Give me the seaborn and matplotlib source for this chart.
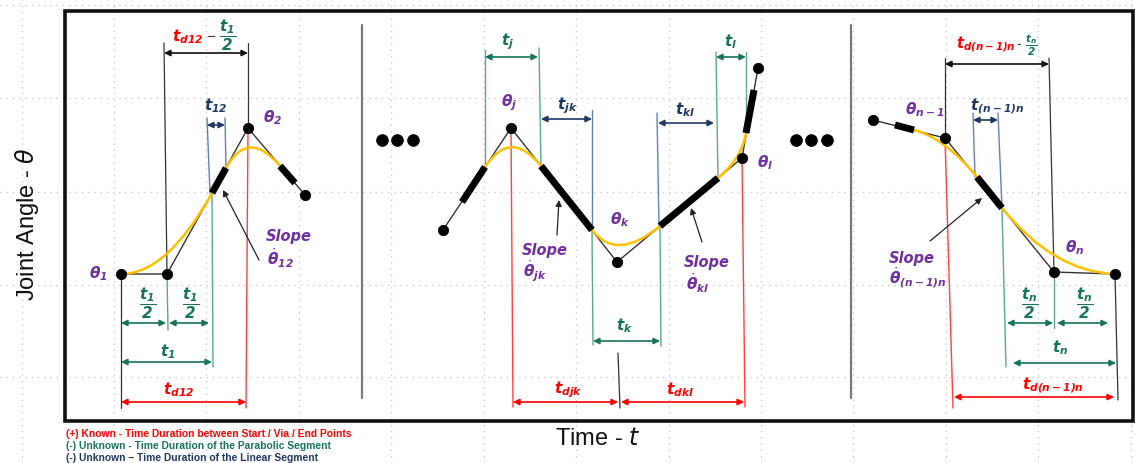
import numpy as np
import pandas as pd
import matplotlib.pyplot as plt
from matplotlib.path import Path
from matplotlib.patches import PathPatch, Rectangle
import seaborn as sns

# ==========================================
# 1. colours / theme
# ==========================================
PURPLE = "#7030A0"
RED = "#FF0000"
GREEN = "#17745A"
GREEN_L = "#5BA88A"
NAVY = "#1F3864"
NAVY_L = "#6480B4"
GOLD = "#FFC000"

sns.set_theme(style="whitegrid")
plt.rcParams["font.family"] = ["Liberation Sans", "DejaVu Sans"]
plt.rcParams["mathtext.fontset"] = "dejavusans"

# ==========================================
# 2. data (time -> x pixel, joint angle -> y pixel, angle axis points down)
# ==========================================
# background grid
grid_t = [22, 114, 206, 299, 391, 484, 576, 669, 761, 853, 946, 1038, 1131]
grid_a = [5, 98, 192, 285, 377]

# start / via / end points of the three panels
way1_t = [121, 167, 248, 305]
way1_a = [274, 274, 128, 195]
way2_t = [443, 511, 617, 742, 758]
way2_a = [230, 128, 262, 158, 68]
way3_t = [873, 945, 1054, 1115]
way3_a = [120, 138, 272, 274]

# parabolic blends: start, corner, end
blend_t = [(121, 167, 212), (226, 248, 280), (485, 511, 541), (592, 617, 660),
           (718, 742, 746), (914, 945, 977), (1002, 1054, 1115)]
blend_a = [(274, 274, 193), (168, 128, 166), (167, 128, 166), (230, 262, 226),
           (178, 158, 133), (130, 138, 177), (208, 272, 274)]
blend_groups = [[0, 1], [2, 3, 4], [5, 6]]

# linear segments (thick)
lin_t0 = [212, 280, 462, 541, 660, 746, 895, 977]
lin_a0 = [193, 166, 202, 166, 226, 133, 125, 177]
lin_t1 = [226, 295, 485, 592, 718, 754, 914, 1002]
lin_a1 = [168, 183, 167, 230, 178, 90, 130, 208]

# guide lines (x0, y0, x1, y1)
black_guides = [(164, 43, 167, 274), (248, 43, 248, 128), (121, 274, 121, 408),
                (945, 58, 945, 138), (1049, 58, 1054, 272), (1115, 274, 1118, 400),
                (618, 353, 620, 408)]
navy_guides = [(207, 118, 210, 193), (225, 118, 226, 168),
               (592, 110, 592, 230), (657, 113, 659, 226),
               (973, 113, 975, 177), (998, 113, 1002, 208)]
green_guides = [(167, 274, 168, 330), (212, 193, 213, 367),
                (485, 50, 485, 167), (539, 48, 541, 166),
                (716, 52, 718, 178), (746, 52, 746, 133),
                (592, 230, 593, 345), (660, 226, 661, 346),
                (1002, 208, 1006, 367), (1054, 272, 1054, 328)]
red_guides = [(248, 128, 246, 408), (511, 128, 513, 407), (742, 158, 745, 407),
              (945, 138, 953, 408)]
separators = [(362, 25, 362, 398), (851, 25, 851, 398)]

# dimension arrows (x0, x1, y)
black_dims = [(164, 248, 53), (945, 1049, 64)]
navy_dims = [(207, 225, 125), (541, 592, 119), (658, 714, 123), (973, 998, 120)]
green_dims = [(121, 166, 323), (169, 209, 323), (121, 212, 362),
              (485, 538, 57), (716, 746, 57), (593, 660, 341),
              (1007, 1053, 323), (1057, 1108, 323), (1013, 1116, 363)]
red_dims = [(121, 246, 402), (513, 618, 402), (621, 744, 402), (954, 1114, 397)]

# slope pointers (text end -> line)
ptr_from = [(259, 260), (557, 235), (702, 242), (930, 241)]
ptr_to = [(223, 190), (559, 200), (691, 208), (982, 198)]

# labels
theta_lbl = [r"$\mathbfit{\theta}_{\mathbfit{1}}$", r"$\mathbfit{\theta}_{\mathbfit{2}}$",
             r"$\mathbfit{\theta}_{\mathbfit{j}}$", r"$\mathbfit{\theta}_{\mathbfit{k}}$",
             r"$\mathbfit{\theta}_{\mathbfit{l}}$", r"$\mathbfit{\theta}_{\mathbfit{n-1}}$",
             r"$\mathbfit{\theta}_{\mathbfit{n}}$"]
theta_xy = [(98, 274), (273, 118), (509, 103), (620, 220), (765, 163), (925, 110), (1075, 248)]
slope_dot = [r"$\dot{\mathbfit{\theta}}_{\mathbfit{12}}$", r"$\dot{\mathbfit{\theta}}_{\mathbfit{jk}}$",
             r"$\dot{\mathbfit{\theta}}_{\mathbfit{kl}}$", r"$\dot{\mathbfit{\theta}}_{\mathbfit{(n-1)n}}$"]
slope_xy = [(289, 237), (545, 250), (707, 262), (912, 258)]
slope_dot_xy = [(280, 258), (535, 271), (698, 283), (918, 278)]
half1 = r"$\dfrac{\mathbfit{t}_{\mathbfit{1}}}{\mathbfit{2}}$"
halfn = r"$\dfrac{\mathbfit{t}_{\mathbfit{n}}}{\mathbfit{2}}$"
green_lbl = [half1, half1, r"$\mathbfit{t}_{\mathbfit{1}}$", r"$\mathbfit{t}_{\mathbfit{j}}$",
             r"$\mathbfit{t}_{\mathbfit{l}}$", r"$\mathbfit{t}_{\mathbfit{k}}$",
             halfn, halfn, r"$\mathbfit{t}_{\mathbfit{n}}$"]
green_lbl_xy = [(148, 303), (191, 303), (168, 352), (508, 42), (731, 42), (625, 326),
                (1030, 303), (1085, 303), (1060, 348)]
navy_lbl = [r"$\mathbfit{t}_{\mathbfit{12}}$", r"$\mathbfit{t}_{\mathbfit{jk}}$",
            r"$\mathbfit{t}_{\mathbfit{kl}}$", r"$\mathbfit{t}_{\mathbfit{(n-1)n}}$"]
navy_lbl_xy = [(216, 106), (567, 106), (685, 110), (997, 106)]
red_lbl = [r"$\mathbfit{t}_{\mathbfit{d12}}$", r"$\mathbfit{t}_{\mathbfit{djk}}$",
           r"$\mathbfit{t}_{\mathbfit{dkl}}$", r"$\mathbfit{t}_{\mathbfit{d(n-1)n}}$"]
red_lbl_xy = [(179, 390), (568, 390), (680, 390), (1053, 385)]
legend_lines = ["(+) Known - Time Duration between Start / Via / End Points",
                "(-) Unknown - Time Duration of the Parabolic Segment",
                "(-) Unknown \u2013 Time Duration of the Linear Segment"]
legend_cols = [RED, GREEN, NAVY]

# ==========================================
# 3. drawing
# ==========================================
fig = plt.figure(figsize=(11.35, 4.63), dpi=100)
ax = fig.add_axes([0, 0, 1, 1])
ax.set_xlim(0, 1135)
ax.set_ylim(463, 0)
ax.set_xticks(grid_t)
ax.set_yticks(grid_a)
ax.tick_params(length=0, labelbottom=False, labelleft=False)
ax.grid(True, color="#c4c4c4", linestyle=(0, (1, 4)), linewidth=0.9)
for s in ax.spines.values():
    s.set_visible(False)

# outer frame
ax.add_patch(Rectangle((65, 11), 1068, 410, fill=False, ec="#111111", lw=2.6, zorder=2))
for x0, y0, x1, y1 in separators:
    ax.plot([x0, x1], [y0, y1], color="#7a7a7a", lw=1.6, zorder=2)


def guides(lst, col, lw=1.0):
    for x0, y0, x1, y1 in lst:
        ax.plot([x0, x1], [y0, y1], color=col, lw=lw, zorder=3)


guides(black_guides, "#333333", 0.9)
guides(navy_guides, NAVY_L, 1.0)
guides(green_guides, GREEN_L, 1.0)
guides(red_guides, "#FF4040", 1.0)


def dims(lst, col):
    for x0, x1, y in lst:
        ax.annotate("", xy=(x1, y), xytext=(x0, y),
                    arrowprops=dict(arrowstyle="<|-|>", color=col, lw=1.2,
                                    mutation_scale=9, shrinkA=0, shrinkB=0), zorder=4)


dims(black_dims, "#111111")
dims(navy_dims, NAVY)
dims(green_dims, GREEN)
dims(red_dims, RED)

# thin joint path
for wt, wa in [(way1_t, way1_a), (way2_t, way2_a), (way3_t, way3_a)]:
    sns.lineplot(x=wt, y=wa, sort=False, estimator=None, color="#333333", lw=1.0, ax=ax, zorder=5)

# yellow parabolic-blend trajectory
for grp in blend_groups:
    verts, codes = [], []
    for n, i in enumerate(grp):
        bt, ba = blend_t[i], blend_a[i]
        verts.append((bt[0], ba[0]))
        codes.append(Path.MOVETO if n == 0 else Path.LINETO)
        verts += [(bt[1], ba[1]), (bt[2], ba[2])]
        codes += [Path.CURVE3, Path.CURVE3]
    ax.add_patch(PathPatch(Path(verts, codes), fill=False, ec=GOLD, lw=1.8, zorder=6))

# thick linear segments
for t0, a0, t1, a1 in zip(lin_t0, lin_a0, lin_t1, lin_a1):
    ax.plot([t0, t1], [a0, a1], color="black", lw=5, solid_capstyle="butt", zorder=7)

# via points
pts = pd.DataFrame({"t": way1_t + way2_t + way3_t, "a": way1_a + way2_a + way3_a})
sns.scatterplot(data=pts, x="t", y="a", color="black", s=55, edgecolor="black", ax=ax, zorder=8)

# ellipsis dots
sns.scatterplot(x=[382, 397, 413, 796, 811, 827], y=[140] * 6, color="black", s=70,
                edgecolor="black", ax=ax, zorder=8)

# slope pointers
for (fx, fy), (tx, ty) in zip(ptr_from, ptr_to):
    ax.annotate("", xy=(tx, ty), xytext=(fx, fy),
                arrowprops=dict(arrowstyle="-|>", color="#222222", lw=0.9,
                                mutation_scale=9, shrinkA=0, shrinkB=0), zorder=9)

# ---- text
for s, (x, y) in zip(theta_lbl, theta_xy):
    ax.text(x, y, s, color=PURPLE, fontsize=11, ha="center", va="center", zorder=10)
for (x, y), d, (dx, dy) in zip(slope_xy, slope_dot, slope_dot_xy):
    ax.text(x, y, "Slope", color=PURPLE, fontsize=10.5, fontweight="bold", style="italic",
            family=["DejaVu Sans"], ha="center", va="center", zorder=10)
    ax.text(dx, dy, d, color=PURPLE, fontsize=11, ha="center", va="center", zorder=10)
for s, (x, y) in zip(green_lbl, green_lbl_xy):
    ax.text(x, y, s, color=GREEN, fontsize=11, ha="center", va="center", zorder=10)
for s, (x, y) in zip(navy_lbl, navy_lbl_xy):
    ax.text(x, y, s, color=NAVY, fontsize=11, ha="center", va="center", zorder=10)
for s, (x, y) in zip(red_lbl, red_lbl_xy):
    ax.text(x, y, s, color=RED, fontsize=11, ha="center", va="center", zorder=10)

# combined headers
ax.text(188, 37, r"$\mathbfit{t}_{\mathbfit{d12}}$", color=RED, fontsize=11, ha="center", va="center")
ax.text(211, 37, "\u2212", color="#333333", fontsize=11, ha="center", va="center")
ax.text(228, 35, half1, color=GREEN, fontsize=11, ha="center", va="center")
ax.text(986, 44, r"$\mathbfit{t}_{\mathbfit{d(n-1)n}}$", color=RED, fontsize=10.5, ha="center", va="center")
ax.text(1019, 44, "-", color="#333333", fontsize=10, ha="center", va="center")
ax.text(1031, 45, halfn, color=GREEN, fontsize=7.5, ha="center", va="center")

# axis titles
ax.text(27, 224, r"Joint Angle - $\theta$", rotation=90, fontsize=17, color="#111111",
        ha="center", va="center")
ax.text(598, 439, r"Time - $t$", fontsize=17, color="#111111", ha="center", va="center")

for i, (s, c) in enumerate(zip(legend_lines, legend_cols)):
    ax.text(66, 434 + 12 * i, s, color=c, fontsize=7.4, fontweight="bold",
            family=["Liberation Sans Narrow", "Liberation Sans"], ha="left", va="center")

fig.savefig("out.png", dpi=100)
